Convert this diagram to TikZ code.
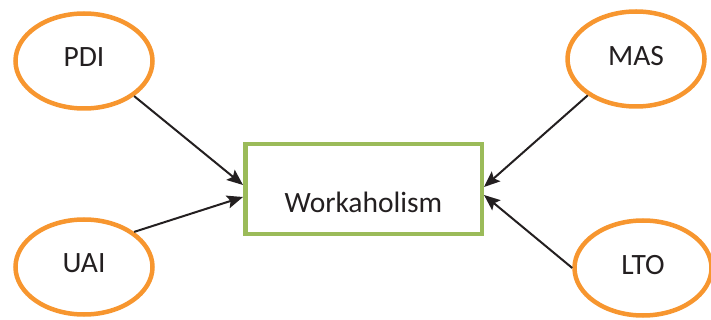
\documentclass[tikz,border=0pt]{standalone}
\usepackage{fontspec}
\setmainfont{Carlito}
\usepackage{tikz}
\usepackage{xcolor}
\usetikzlibrary{shapes.geometric,arrows.meta}

\definecolor{dimorange}{HTML}{F7962F}
\definecolor{boxgreen}{HTML}{9BBB59}
\definecolor{inkgray}{HTML}{231F20}

\begin{document}
\begin{tikzpicture}[x=1pt, y=-1pt,
  dimension/.style={ellipse, draw=dimorange, line width=4.5pt, minimum width=137pt,
    minimum height=95pt, inner sep=0pt, text=inkgray, text depth=7pt,
    font=\fontsize{29.5}{32}\selectfont},
  outcome/.style={rectangle, draw=boxgreen, line width=4.5pt, minimum width=236.5pt,
    minimum height=89.5pt, inner sep=0pt},
  arr/.style={-{Stealth[length=16pt,width=13pt,inset=3pt]}, line width=2pt, draw=inkgray}]
\useasboundingbox (0,0) rectangle (711,320);
\node[dimension] (PDI) at (84,61) {PDI};
\node[dimension] (UAI) at (84,267) {UAI};
\node[dimension] (MAS) at (636,59) {MAS};
\node[dimension] (LTO) at (643,268) {LTO};
\node[outcome] (work) at (363.5,189) {};
\node[anchor=base, text=inkgray, font=\fontsize{29.5}{32}\selectfont] (worktext) at (363.5,213) {Workaholism};
\draw[arr] (PDI.-35) -- ([yshift=4pt]work.west);
\draw[arr] (UAI.35) -- ([yshift=-8pt]work.west);
\draw[arr] (MAS.217) -- ([yshift=2pt]work.east);
\draw[arr] (LTO.west) -- ([yshift=-6pt]work.east);
\end{tikzpicture}
\end{document}
